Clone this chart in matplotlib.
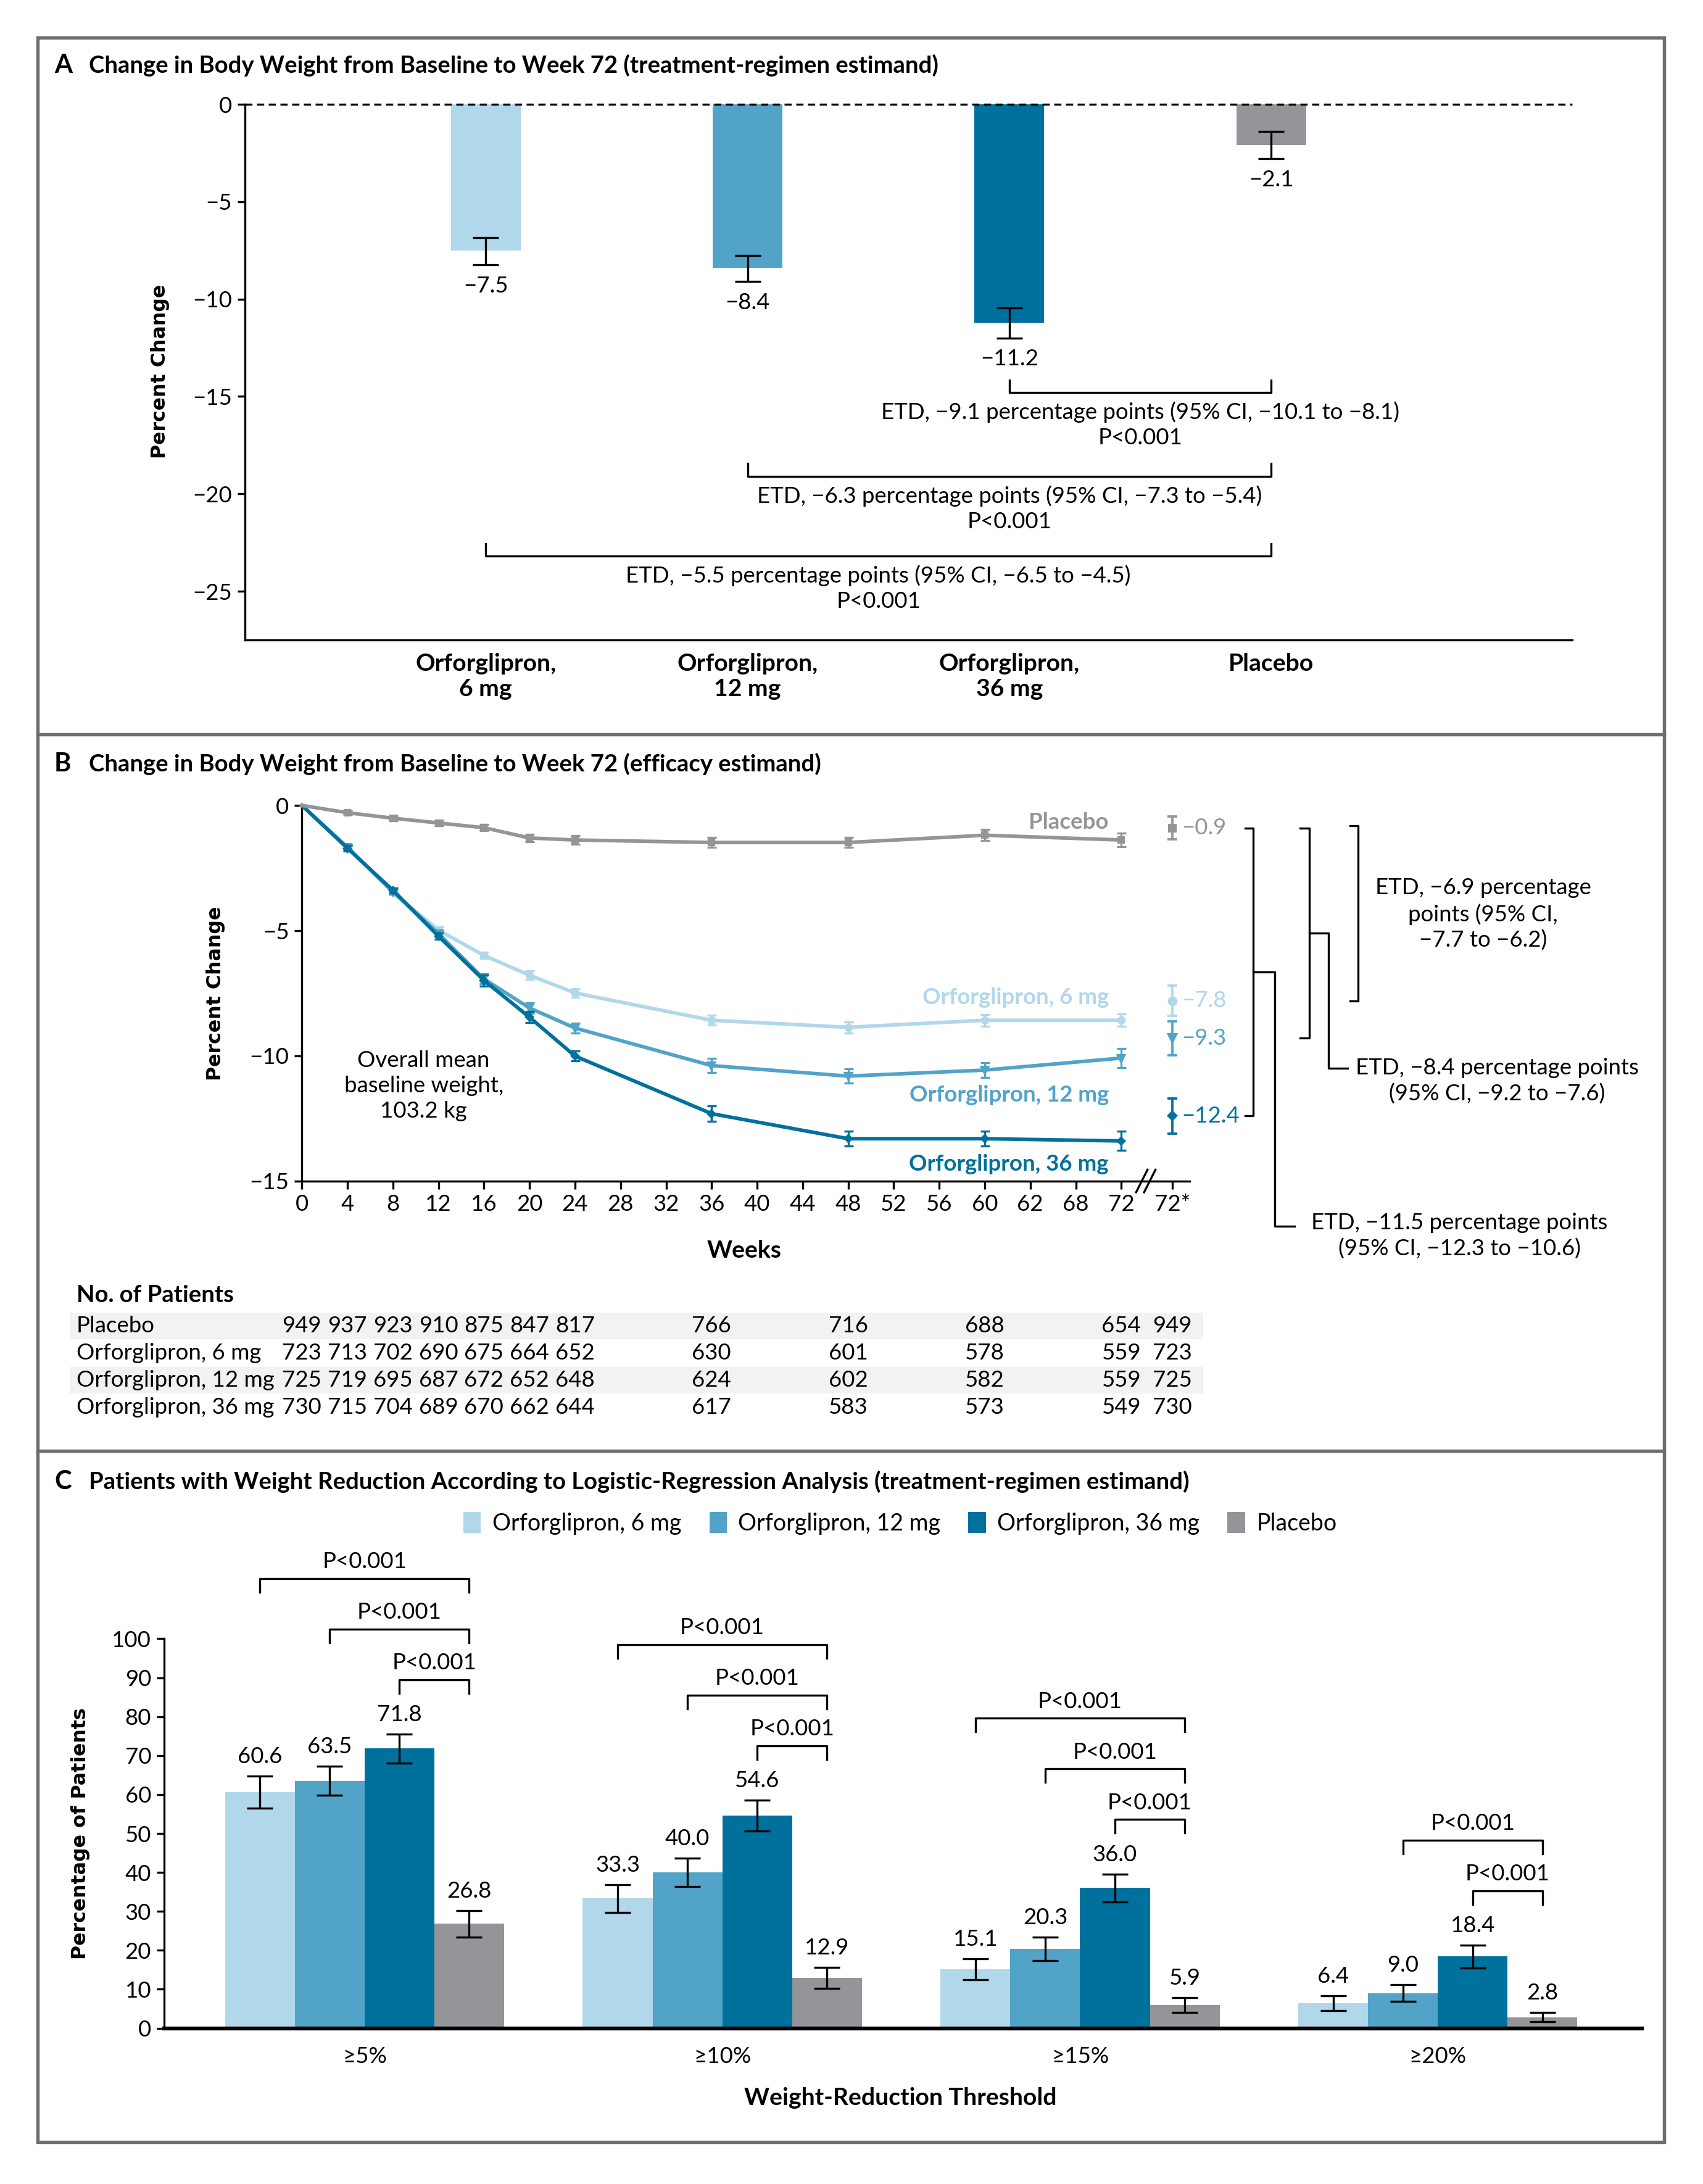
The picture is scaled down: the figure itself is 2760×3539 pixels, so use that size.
import numpy as np
import matplotlib
matplotlib.use('Agg')
import matplotlib.pyplot as plt
from matplotlib.patches import Rectangle, Patch
from matplotlib.transforms import blended_transform_factory

plt.rcParams['font.family'] = ['Lato', 'DejaVu Sans']
plt.rcParams['font.size'] = 8.8
plt.rcParams['axes.unicode_minus'] = True

# ---------------- data ----------------
arm_names = ['Orforglipron, 6 mg', 'Orforglipron, 12 mg', 'Orforglipron, 36 mg', 'Placebo']
arm_colors = ['#b1d7ea', '#52a3c8', '#00709c', '#939598']

# panel A
groups_a = ['Orforglipron,\n6 mg', 'Orforglipron,\n12 mg', 'Orforglipron,\n36 mg', 'Placebo']
change_a = [-7.5, -8.4, -11.2, -2.1]
ci_low_a = [-8.25, -9.1, -12.0, -2.8]
ci_high_a = [-6.85, -7.75, -10.45, -1.4]
etd_pairs_a = [(2, 3), (1, 3), (0, 3)]
etd_text_a = ['ETD, \u22129.1 percentage points (95% CI, \u221210.1 to \u22128.1)\nP<0.001',
              'ETD, \u22126.3 percentage points (95% CI, \u22127.3 to \u22125.4)\nP<0.001',
              'ETD, \u22125.5 percentage points (95% CI, \u22126.5 to \u22124.5)\nP<0.001']
etd_level_a = [-14.8, -19.1, -23.2]

# panel B
weeks = [0, 4, 8, 12, 16, 20, 24, 36, 48, 60, 72]
placebo_b = [0, -0.29, -0.51, -0.70, -0.89, -1.30, -1.38, -1.48, -1.48, -1.19, -1.38]
mg6_b = [0, -1.65, -3.48, -4.98, -5.99, -6.78, -7.49, -8.58, -8.86, -8.58, -8.58]
mg12_b = [0, -1.68, -3.45, -5.12, -6.93, -8.09, -8.89, -10.39, -10.81, -10.57, -10.09]
mg36_b = [0, -1.71, -3.39, -5.22, -6.99, -8.46, -10.01, -12.31, -13.31, -13.31, -13.40]
placebo_err = [0, 0.08, 0.10, 0.12, 0.12, 0.15, 0.18, 0.20, 0.20, 0.22, 0.28]
mg6_err = [0, 0.10, 0.10, 0.12, 0.13, 0.17, 0.18, 0.20, 0.22, 0.24, 0.25]
mg12_err = [0, 0.10, 0.10, 0.12, 0.20, 0.20, 0.20, 0.28, 0.28, 0.30, 0.38]
mg36_err = [0, 0.10, 0.10, 0.12, 0.22, 0.22, 0.20, 0.30, 0.30, 0.30, 0.38]
est72 = [-7.8, -9.3, -12.4, -0.9]
est72_err = [0.6, 0.68, 0.7, 0.45]
week_ticks = [0, 4, 8, 12, 16, 20, 24, 28, 32, 36, 40, 44, 48, 52, 56, 60, 64, 68, 72]
week_labels = ['0', '4', '8', '12', '16', '20', '24', '28', '32', '36', '40', '44', '48',
               '52', '56', '60', '62', '68', '72']
star_label = '72*'

# patients table
table_rows = ['Placebo', 'Orforglipron, 6 mg', 'Orforglipron, 12 mg', 'Orforglipron, 36 mg']
placebo_n = [949, 937, 923, 910, 875, 847, 817, 766, 716, 688, 654, 949]
mg6_n = [723, 713, 702, 690, 675, 664, 652, 630, 601, 578, 559, 723]
mg12_n = [725, 719, 695, 687, 672, 652, 648, 624, 602, 582, 559, 725]
mg36_n = [730, 715, 704, 689, 670, 662, 644, 617, 583, 573, 549, 730]

# panel C
thresholds = ['\u22655%', '\u226510%', '\u226515%', '\u226520%']
mg6_c = [60.6, 33.3, 15.1, 6.4]
mg12_c = [63.5, 40.0, 20.3, 9.0]
mg36_c = [71.8, 54.6, 36.0, 18.4]
placebo_c = [26.8, 12.9, 5.9, 2.8]
mg6_c_err = [4.1, 3.6, 2.7, 1.9]
mg12_c_err = [3.7, 3.7, 3.0, 2.1]
mg36_c_err = [3.7, 3.9, 3.6, 2.9]
placebo_c_err = [3.4, 2.7, 1.9, 1.2]

# ---------------- layout helpers (reference pixel grid 1224 x 1570) ----------------
W, H = 1224.0, 1570.0


def rect(x0, y0, x1, y1):
    return [x0 / W, 1 - y1 / H, (x1 - x0) / W, (y1 - y0) / H]


def minus(v, fmt='{:.1f}'):
    s = fmt.format(v)
    return s.replace('-', '\u2212')


fig = plt.figure(figsize=(9.2, 11.7967), dpi=300)
ov = fig.add_axes([0, 0, 1, 1])
ov.set_xlim(0, W)
ov.set_ylim(H, 0)
ov.axis('off')
ov.set_zorder(-1)

frame_c = '#6d6e71'
ov.add_patch(Rectangle((27, 27), 1169, 1513, fill=False, ec=frame_c, lw=1.3))
ov.plot([27, 1196], [528, 528], color=frame_c, lw=1.3)
ov.plot([27, 1196], [1043, 1043], color=frame_c, lw=1.3)

titles = [(47, 'A', 'Change in Body Weight from Baseline to Week 72 (treatment-regimen estimand)'),
          (549, 'B', 'Change in Body Weight from Baseline to Week 72 (efficacy estimand)'),
          (1065, 'C', 'Patients with Weight Reduction According to Logistic-Regression Analysis (treatment-regimen estimand)')]
for y, letter, t in titles:
    ov.text(39, y, letter, weight='bold', size=10, va='center')
    ov.text(64, y, t, weight='bold', size=9.2, va='center')

ylab_font = dict(family='DejaVu Sans', weight='bold', size=7.6, rotation=90, ha='center', va='center')

# ---------------- panel A ----------------
axA = fig.add_axes(rect(176, 75, 1130, 460))
axA.set_facecolor('none')
xa = np.arange(len(change_a))
axA.bar(xa, change_a, width=0.266, color=arm_colors, zorder=2)
yerr_a = [np.array(change_a) - np.array(ci_low_a), np.array(ci_high_a) - np.array(change_a)]
axA.errorbar(xa, change_a, yerr=yerr_a, fmt='none', ecolor='black', elinewidth=0.8,
             capsize=5, capthick=0.8, zorder=3)
axA.axhline(0, color='black', lw=0.8, dashes=(3.5, 2.2), clip_on=False, zorder=4)
axA.set_xlim(-0.92, 4.15)
axA.set_ylim(-27.5, 0)
for s in ['top', 'right']:
    axA.spines[s].set_visible(False)
axA.spines['left'].set_linewidth(0.8)
axA.spines['bottom'].set_linewidth(0.8)
axA.set_yticks([0, -5, -10, -15, -20, -25])
axA.set_yticklabels([minus(v, '{:d}') for v in [0, -5, -10, -15, -20, -25]])
axA.tick_params(axis='y', length=3, width=0.8, pad=2)
axA.set_xticks(xa)
axA.set_xticklabels(groups_a, weight='bold', size=9.4, linespacing=1.2)
axA.tick_params(axis='x', length=0, pad=5)
for i, v in enumerate(change_a):
    axA.text(i, ci_low_a[i] - 0.55, minus(v), ha='center', va='top')
for (i, j), lvl, t in zip(etd_pairs_a, etd_level_a, etd_text_a):
    axA.plot([i, i, j, j], [lvl + 0.65, lvl, lvl, lvl + 0.65], color='black', lw=0.8)
    axA.text((i + j) / 2, lvl - 0.45, t, ha='center', va='top', linespacing=1.3)
ov.text(115, 267, 'Percent Change', **ylab_font)

# ---------------- panel B ----------------
axB = fig.add_axes(rect(217, 579, 855, 849))
axB.set_facecolor('none')
star_x = 76.5
series_b = [(mg6_b, mg6_err, 'o', 2.2), (mg12_b, mg12_err, 'v', 2.4), (mg36_b, mg36_err, 'D', 1.6),
            (placebo_b, placebo_err, 's', 2.0)]
for k, (vals, err, mk, ms) in enumerate(series_b):
    c = arm_colors[k]
    axB.plot(weeks, vals, color=c, lw=1.4, clip_on=False, zorder=3 + k)
    axB.errorbar(weeks[1:], vals[1:], yerr=err[1:], fmt=mk, color=c, ms=ms,
                 elinewidth=0.8, capsize=1.8, capthick=0.8, clip_on=False, zorder=3 + k)
    axB.errorbar([star_x], [est72[k]], yerr=[est72_err[k]], fmt=mk, color=c, ms=ms + 0.6,
                 elinewidth=0.9, capsize=2, capthick=0.9, clip_on=False)
    axB.text(star_x + 0.8, est72[k], minus(est72[k]), color=c, va='center', ha='left')
axB.set_xlim(0, 78)
axB.set_ylim(-15, 0)
for s in ['top', 'right']:
    axB.spines[s].set_visible(False)
axB.spines['left'].set_linewidth(0.8)
axB.spines['bottom'].set_linewidth(0.8)
axB.set_yticks([0, -5, -10, -15])
axB.set_yticklabels([minus(v, '{:d}') for v in [0, -5, -10, -15]])
axB.set_xticks(week_ticks + [star_x])
axB.set_xticklabels(week_labels + [star_label])
axB.tick_params(length=3, width=0.8, pad=2)
# axis break
for dx in [0, 0.7]:
    axB.plot([73.3 + dx, 74.3 + dx], [-15.45, -14.55], color='black', lw=0.8, clip_on=False)

label_pos = [(-7.67, 'Orforglipron, 6 mg'), (-11.56, 'Orforglipron, 12 mg'),
             (-14.33, 'Orforglipron, 36 mg'), (-0.67, 'Placebo')]
for k, (y, t) in enumerate(label_pos):
    axB.text(70.9, y, t, color=arm_colors[k], weight='bold', ha='right', va='center')
axB.text(10.7, -11.2, 'Overall mean\nbaseline weight,\n103.2 kg', ha='center', va='center',
         linespacing=1.3)

# ETD brackets on the right
br = dict(color='black', lw=0.8, clip_on=False)
top = est72[3]
axB.plot([82.9, 83.6, 83.6, 82.9], [top, top, est72[2], est72[2]], **br)
mid = (top + est72[2]) / 2
axB.plot([83.6, 85.5, 85.5, 87.2], [mid, mid, -16.8, -16.8], **br)
axB.text(101.7, -17.2, 'ETD, \u221211.5 percentage points\n(95% CI, \u221212.3 to \u221210.6)',
         ha='center', va='center', linespacing=1.3)
axB.plot([87.7, 88.5, 88.5, 87.7], [top, top, est72[1], est72[1]], **br)
mid = (top + est72[1]) / 2
axB.plot([88.5, 90.2, 90.2, 91.9], [mid, mid, -10.5, -10.5], **br)
axB.text(105.0, -11.0, 'ETD, \u22128.4 percentage points\n(95% CI, \u22129.2 to \u22127.6)',
         ha='center', va='center', linespacing=1.3)
axB.plot([92.1, 92.8, 92.8, 92.1], [top + 0.1, top + 0.1, est72[0], est72[0]], **br)
axB.text(103.8, (top + est72[0]) / 2, 'ETD, \u22126.9 percentage\npoints (95% CI,\n\u22127.7 to \u22126.2)',
         ha='center', va='center', linespacing=1.3)

ov.text(535, 899, 'Weeks', weight='bold', size=9.4, ha='center', va='center')
ov.text(155, 714, 'Percent Change', **ylab_font)

# patients table
ov.text(55, 931, 'No. of Patients', weight='bold', size=9.2, va='center')
trans = blended_transform_factory(axB.transData, ov.transData)
n_pos = weeks + [star_x]
for r, (name, vals) in enumerate(zip(table_rows, [placebo_n, mg6_n, mg12_n, mg36_n])):
    y = 953 + r * 19.5
    if r % 2 == 0:
        ov.add_patch(Rectangle((50, y - 9.5), 815, 19, color='#f1f2f2', lw=0))
    ov.text(55, y, name, va='center')
    for w, n in zip(n_pos, vals):
        axB.text(w, y, str(n), transform=trans, ha='center', va='center', clip_on=False)

# ---------------- panel C ----------------
axC = fig.add_axes(rect(118, 1110, 1180, 1458))
axC.set_facecolor('none')
xc = np.arange(len(thresholds))
bw = 0.195
series_c = [(mg6_c, mg6_c_err), (mg12_c, mg12_c_err), (mg36_c, mg36_c_err), (placebo_c, placebo_c_err)]
handles = []
for k, (vals, err) in enumerate(series_c):
    pos = xc + (k - 1.5) * bw
    b = axC.bar(pos, vals, width=bw, color=arm_colors[k], zorder=2)
    handles.append(b)
    axC.errorbar(pos, vals, yerr=err, fmt='none', ecolor='black', elinewidth=0.8,
                 capsize=5, capthick=0.8, zorder=3)
    for p, v, e in zip(pos, vals, err):
        axC.text(p, v + e + 5, f'{v:.1f}', ha='center', va='center')
axC.set_xlim(-0.56, 3.57)
axC.set_ylim(0, 124.3)
for s in ['top', 'right']:
    axC.spines[s].set_visible(False)
axC.spines['left'].set_bounds(0, 100)
axC.spines['left'].set_linewidth(0.8)
axC.spines['bottom'].set_linewidth(1.5)
axC.set_yticks(range(0, 101, 10))
axC.tick_params(axis='y', length=3, width=0.8, pad=2)
axC.set_xticks(xc)
axC.set_xticklabels(thresholds)
axC.tick_params(axis='x', length=0, pad=7)

# P-value brackets
for g in range(len(thresholds)):
    pairs = [(2, 3), (1, 3), (0, 3)] if g < 3 else [(2, 3), (1, 3)]
    base = mg36_c[g] + mg36_c_err[g] + 14
    for n, (i, j) in enumerate(pairs):
        lvl = base + 13 * n
        xi = g + (i - 1.5) * bw
        xj = g + (j - 1.5) * bw
        axC.plot([xi, xi, xj, xj], [lvl - 3.5, lvl, lvl, lvl - 3.5], color='black', lw=0.8,
                 clip_on=False)
        axC.text((xi + xj) / 2, lvl + 4.3, 'P<0.001', ha='center', va='center')

fig.legend(handles, arm_names, ncol=4, loc='center', bbox_to_anchor=(647 / W, 1 - 1095 / H),
           frameon=False, handlelength=0.75, handleheight=1.0, handletextpad=0.5,
           columnspacing=1.2, fontsize=9.0)

ov.text(647, 1508, 'Weight-Reduction Threshold', weight='bold', size=9.4, ha='center', va='center')
ov.text(58, 1318, 'Percentage of Patients', **ylab_font)

fig.savefig('out.png', dpi=300)
